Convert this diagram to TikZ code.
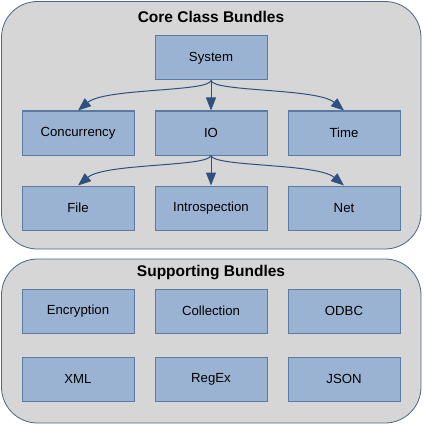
\documentclass[tikz,border=0pt]{standalone}
\usepackage{fontspec}
\setmainfont{Liberation Sans}
\usetikzlibrary{arrows.meta}
\definecolor{contfill}{HTML}{D6D6D6}
\definecolor{contline}{HTML}{4C6686}
\definecolor{boxfill}{HTML}{9BB3D3}
\definecolor{boxline}{HTML}{5B7BA5}
\definecolor{arrowc}{HTML}{2E5180}
\begin{document}
\begin{tikzpicture}[x=1pt,y=-1pt,
  container/.style={draw=contline,fill=contfill,line width=0.8pt,rounded corners=36pt},
  bundle/.style={draw=boxline,fill=boxfill,line width=1pt,minimum width=112pt,minimum height=44pt,inner sep=0pt,font=\fontsize{13.2}{15}\selectfont},
  title/.style={font=\bfseries\fontsize{15.5}{17}\selectfont,inner sep=0pt},
  link/.style={draw=arrowc,line width=1pt,-{Triangle[length=13pt,width=10pt]}}]
\useasboundingbox (0,0) rectangle (423,425);
\draw[container] (1.5,1.5) rectangle (421,249);
\draw[container] (1.5,259) rectangle (421,423);
\node[title] (t1) at (211,17) {Core Class Bundles};
\node[title] (t2) at (211,273) {Supporting Bundles};
\node[bundle] (sys) at (211,58) {System};
\node[bundle] (con) at (78,133) {Concurrency};
\node[bundle] (io) at (211,133) {IO};
\node[bundle] (time) at (344,133) {Time};
\node[bundle] (file) at (78,208) {File};
\node[bundle] (intro) at (211,208) {Introspection};
\node[bundle] (net) at (344,208) {Net};
\node[bundle] (enc) at (78,311) {Encryption};
\node[bundle] (col) at (211,311) {Collection};
\node[bundle] (odbc) at (344,311) {ODBC};
\node[bundle] (xml) at (78,379) {XML};
\node[bundle] (regex) at (211,379) {RegEx};
\node[bundle] (json) at (344,379) {JSON};
\draw[link] (sys.south) .. controls (209,92) and (105,88) .. (con.north);
\draw[link] (sys.south) -- (io.north);
\draw[link] (sys.south) .. controls (213,92) and (317,88) .. (time.north);
\draw[link] (io.south) .. controls (209,167) and (105,163) .. (file.north);
\draw[link] (io.south) -- (intro.north);
\draw[link] (io.south) .. controls (213,167) and (317,163) .. (net.north);
\end{tikzpicture}
\end{document}
